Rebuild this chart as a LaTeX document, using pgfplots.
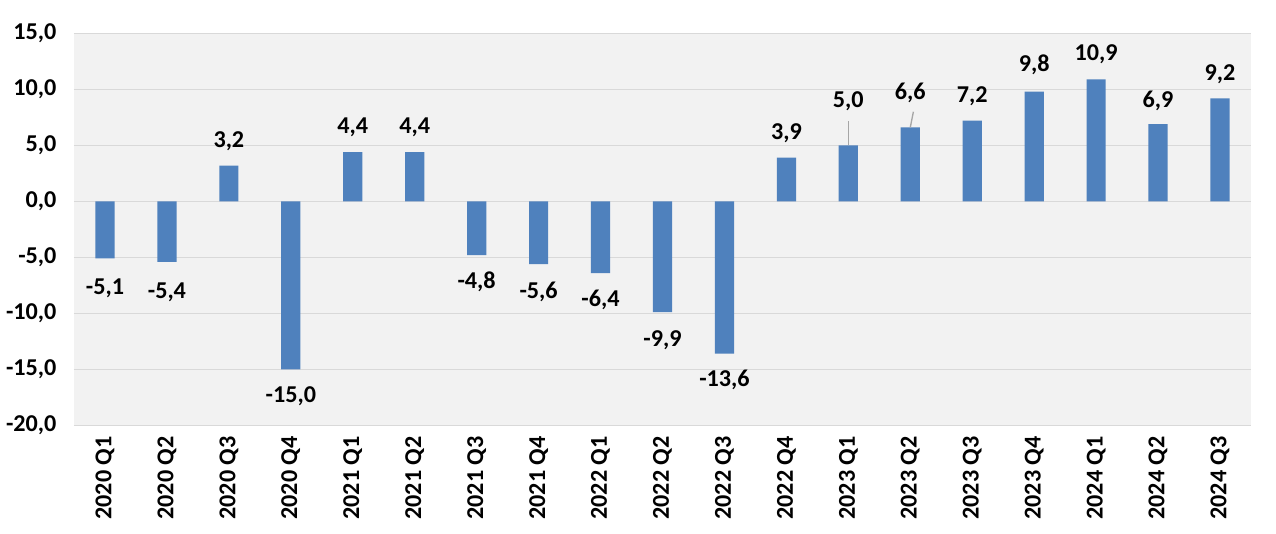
\documentclass[border=0pt]{standalone}
\usepackage{fontspec}
\setmainfont{Carlito}
\usepackage{pgfplots}
\pgfplotsset{compat=1.18}
\usepackage{pgfplotstable}
\definecolor{barblue}{HTML}{4F81BD}
\definecolor{panel}{HTML}{F2F2F2}
\definecolor{gridc}{HTML}{D9D9D9}
\definecolor{leader}{HTML}{A6A6A6}

\pgfplotstableread{
x y
0 -5.1
1 -5.4
2 3.2
3 -15.0
4 4.4
5 4.4
6 -4.8
7 -5.6
8 -6.4
9 -9.9
10 -13.6
11 3.9
12 5.0
13 6.6
14 7.2
15 9.8
16 10.9
17 6.9
18 9.2
}\bars

\pgfplotstableread{
x y lab
0 -7.8 {-5,1}
1 -8.1 {-5,4}
2 5.4 {3,2}
3 -17.4 {-15,0}
4 6.6 {4,4}
5 6.6 {4,4}
6 -7.2 {-4,8}
7 -8.1 {-5,6}
8 -8.8 {-6,4}
9 -12.4 {-9,9}
10 -15.9 {-13,6}
11 6.1 {3,9}
12 8.95 {5,0}
13 9.7 {6,6}
14 9.4 {7,2}
15 12.2 {9,8}
16 13.1 {10,9}
17 9.0 {6,9}
18 11.35 {9,2}
}\labels

\begin{document}
\begin{tikzpicture}
\useasboundingbox (-44.4pt,-64.6pt) rectangle (721.2pt,255.2pt);
\begin{axis}[
  at={(0,0)}, anchor=south west,
  scale only axis, width=706.2pt, height=235.2pt,
  xmin=-0.5, xmax=18.5, ymin=-20, ymax=15,
  ytick={-20,-15,...,15},
  xtick={0,...,18},
  xticklabels={2020 Q1,2020 Q2,2020 Q3,2020 Q4,2021 Q1,2021 Q2,2021 Q3,2021 Q4,2022 Q1,2022 Q2,2022 Q3,2022 Q4,2023 Q1,2023 Q2,2023 Q3,2023 Q4,2024 Q1,2024 Q2,2024 Q3},
  axis background/.style={fill=panel},
  axis line style={draw=none},
  major tick length=0pt,
  ymajorgrids,
  grid style={gridc, line width=0.9pt},
  /pgf/number format/.cd, fixed, fixed zerofill, precision=1, use comma, assume math mode=true,
  /pgfplots/.cd,
  tick label style={font=\fontsize{14.5}{16}\selectfont\bfseries, text=black},
  xticklabel style={rotate=90, anchor=east},
  xticklabel shift=3pt,
  yticklabel style={xshift=-7pt},
  clip=false,
]
\addplot[ybar, bar width=0.31, fill=barblue, draw=none] table[x=x,y=y]{\bars};
\addplot[leader, line width=0.8pt] coordinates {(12,5.0) (12,7.2)};
\addplot[leader, line width=0.8pt] coordinates {(13,6.6) (13.05,8.0)};
\addplot[draw=none, mark=none, point meta=explicit symbolic,
  nodes near coords={\pgfplotspointmeta},
  every node near coord/.style={anchor=center, font=\fontsize{14.5}{16}\selectfont\bfseries, text=black}]
  table[x=x,y=y,meta=lab]{\labels};
\end{axis}
\end{tikzpicture}
\end{document}
